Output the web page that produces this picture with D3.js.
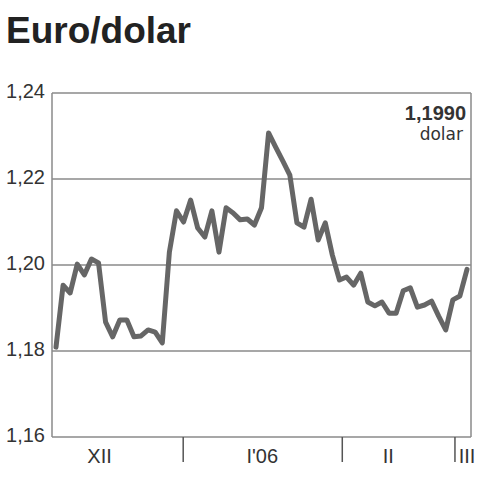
<!DOCTYPE html>
<html><head><meta charset="utf-8">
<script src="https://cdn.jsdelivr.net/npm/d3@7"></script>
<style>body{margin:0;background:#fff}svg{display:block}</style>
</head><body>
<script>
const title = "Euro/dolar";
const values = [1.1809,1.1953,1.1935,1.2002,1.1977,1.2014,1.2005,1.1867,1.1833,1.1872,
1.1872,1.1833,1.1835,1.1849,1.1844,1.1819,1.2030,1.2126,1.2100,1.2151,
1.2086,1.2065,1.2126,1.2030,1.2133,1.2121,1.2105,1.2107,1.2093,1.2133,
1.2307,1.2274,1.2242,1.2209,1.2098,1.2088,1.2153,1.2058,1.2098,1.2023,
1.1965,1.1972,1.1953,1.1981,1.1914,1.1905,1.1914,1.1888,1.1888,1.1940,
1.1947,1.1902,1.1907,1.1916,1.1881,1.1849,1.1919,1.1928,1.1990];
const yTicks = [1.16,1.18,1.20,1.22,1.24];
const monthLabels = ["XII","I'06","II","III"];
const monthLabelPos = [6.15,29.1,46.9,58.0];
const monthBoundaries = [17.95,40.4,56.3];
const lastLabel = "1,1990";
const unitLabel = "dolar";

const W=480,H=480;
const svg=d3.select("body").append("svg").attr("width",W).attr("height",H);
const pL=52,pR=471,pT=93,pB=437;
const x=d3.scaleLinear().domain([0,values.length-1]).range([56,467]);
const y=d3.scaleLinear().domain([1.16,1.24]).range([pB,pT]);
const fmt=v=>d3.format(".2f")(v).replace(".",",");

svg.append("text").attr("x",6).attr("y",43).text(title)
  .attr("font-family","Liberation Sans, Arial, sans-serif").attr("font-weight","bold")
  .attr("font-size",37).attr("fill","#222");

// grid
svg.append("g").selectAll("line").data(yTicks).join("line")
  .attr("x1",pL).attr("x2",pR).attr("y1",d=>y(d)).attr("y2",d=>y(d))
  .attr("stroke","#8a8a8a").attr("stroke-width",1.5);
svg.append("g").selectAll("text").data(yTicks).join("text")
  .attr("x",45).attr("y",d=>y(d)+5).attr("text-anchor","end")
  .attr("font-family","Liberation Sans, Arial, sans-serif").attr("font-size",20)
  .attr("fill","#333").text(fmt);
// frame verticals
svg.append("line").attr("x1",pL).attr("x2",pL).attr("y1",pT).attr("y2",pB)
  .attr("stroke","#8a8a8a").attr("stroke-width",1.5);
svg.append("line").attr("x1",pR).attr("x2",pR).attr("y1",pT).attr("y2",pB)
  .attr("stroke","#8a8a8a").attr("stroke-width",1.5);
// month ticks
svg.append("g").selectAll("line").data(monthBoundaries).join("line")
  .attr("x1",d=>x(d)).attr("x2",d=>x(d)).attr("y1",pB).attr("y2",462)
  .attr("stroke","#555").attr("stroke-width",1.5);
svg.append("g").selectAll("text").data(monthLabels).join("text")
  .attr("x",(d,i)=>x(monthLabelPos[i])).attr("y",463).attr("text-anchor","middle")
  .attr("font-family","Liberation Sans, Arial, sans-serif").attr("font-size",20)
  .attr("fill","#333").text(d=>d);

// line
svg.append("path").datum(values)
  .attr("d",d3.line().x((d,i)=>x(i)).y(d=>y(d)))
  .attr("fill","none").attr("stroke","#666").attr("stroke-width",5)
  .attr("stroke-linejoin","round").attr("stroke-linecap","round");

svg.append("text").attr("x",466).attr("y",120).attr("text-anchor","end")
  .attr("font-family","Liberation Sans, Arial, sans-serif").attr("font-weight","bold")
  .attr("font-size",20).attr("fill","#333").text(lastLabel);
svg.append("text").attr("x",463).attr("y",140).attr("text-anchor","end")
  .attr("font-family","DejaVu Sans, sans-serif")
  .attr("font-size",17).attr("fill","#333").text(unitLabel);
</script>
</body></html>
